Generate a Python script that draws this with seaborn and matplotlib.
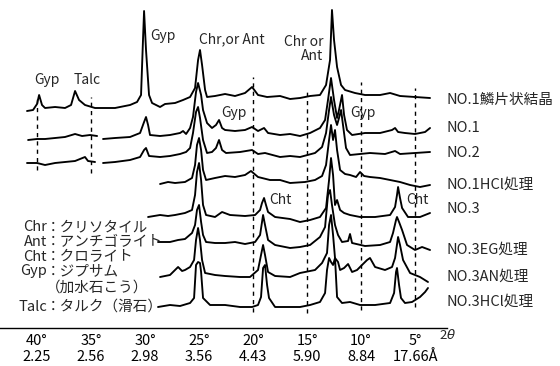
import numpy as np
import pandas as pd
import matplotlib
matplotlib.use("Agg")
import matplotlib.pyplot as plt
import seaborn as sns

# X-ray diffraction traces (2 theta in degrees, height above axis)
nan = np.nan

tt_flake = [40.93, 40.37, 40.0, 39.81, 39.54, 39.26, 38.33, 37.41, 36.85, 36.48, 36.11, 35.56, 34.63,
            32.78, 31.39, 30.74, 30.37, 30.19, 30.09, 29.91, 29.63, 29.35, 28.61, 28.15, 27.22, 26.48,
            25.83, 25.37, 25.09, 24.91, 24.72, 24.44, 24.26, 23.52, 22.59, 21.67, 20.74, 20.09, 19.54,
            18.70, 17.50, 16.57, 15.65, 14.72, 13.80, 13.24, 12.87, 12.69, 12.50, 12.22, 11.85, 11.48,
            10.56, 9.63, 8.24, 7.31, 6.39, 5.00, 3.61]
int_flake = [217, 218, 224, 233, 223, 220, 221, 220, 223, 237, 228, 223, 220,
             220, 223, 226, 233, 288, 317, 278, 233, 225, 221, 224, 225, 228,
             231, 240, 268, 278, 263, 238, 231, 232, 234, 232, 235, 241, 233,
             231, 232, 229, 230, 232, 233, 243, 268, 318, 288, 261, 243, 238,
             235, 233, 233, 235, 232, 231, 230]

tt_no1 = [40.83, 40.0, 39.26, 38.33, 37.41, 36.48, 35.83, 35.09, 34.44, nan, 33.89, 32.78, 31.39, 30.46,
          30.09, 29.91, 29.72, 29.54, 28.61, 27.69, 26.76, 26.48, 26.20, 25.83, 25.56, 25.28, 25.09,
          24.81, 24.63, 24.26, 23.80, 23.43, 23.15, 22.87, 22.59, 21.67, 20.74, 20.09, 19.54, 18.98,
          18.61, 17.50, 16.57, 15.65, 14.72, 13.80, 13.33, 13.06, 12.78, 12.50, 12.22, 12.04, 11.76,
          11.57, 11.30, 10.83, 9.63, 8.24, 7.13, 6.85, 6.57, 5.93, 5.00, 4.07, 3.61]
int_no1 = [188, 189, 189, 190, 191, 194, 192, 193, 192, nan, 189, 190, 191, 195,
           206, 211, 203, 193, 192, 193, 195, 197, 194, 200, 211, 236, 245,
           233, 218, 205, 200, 203, 208, 200, 198, 197, 198, 201, 197, 200,
           195, 193, 194, 192, 195, 200, 208, 228, 250, 228, 210, 218, 233,
           213, 198, 193, 195, 195, 198, 200, 196, 195, 194, 196, 200]

tt_no2 = [40.93, 40.0, 39.26, 38.33, 37.41, 36.48, 36.02, 35.56, 35.28, 34.63, nan, 33.89, 32.78, 31.39,
          30.46, 30.09, 29.91, 29.63, 28.61, 27.69, 26.76, 26.20, 25.83, 25.56, 25.28, 25.09, 24.91,
          24.63, 24.26, 23.80, 23.43, 23.15, 22.87, 22.50, 21.20, 20.09, 19.54, 18.89, 17.50, 16.57,
          15.65, 14.26, 13.61, 13.24, 12.96, 12.78, 12.50, 12.22, 12.04, 11.85, 11.67, 11.39, 11.02,
          9.17, 7.78, 6.85, 6.39, 5.00, 3.61]
int_no2 = [165, 165, 163, 165, 166, 167, 169, 171, 167, 166, nan, 165, 166, 168,
           171, 178, 180, 172, 171, 172, 174, 176, 180, 195, 216, 221, 210,
           188, 175, 176, 180, 188, 178, 175, 176, 178, 174, 175, 171, 172,
           171, 175, 181, 195, 218, 231, 213, 203, 210, 218, 203, 180, 173,
           175, 174, 177, 174, 175, 176]

tt_no1hcl = [28.61, 27.87, 27.22, 26.30, 25.65, 25.37, 25.19, 25.00, 24.81, 24.63, 24.35, 23.52, 22.59,
             21.67, 20.74, 20.19, 19.54, 18.43, 17.50, 16.57, 15.19, 14.26, 13.61, 13.24, 12.96, 12.78,
             12.59, 12.41, 12.22, 11.94, 11.48, 11.02, 10.46, 10.09, 9.72, 9.17, 8.24, 7.31, 6.39, 5.46,
             4.54, 3.61]
int_no1hcl = [144, 146, 145, 146, 150, 163, 183, 190, 178, 158, 148, 150, 152,
              151, 153, 157, 151, 148, 148, 145, 146, 148, 152, 163, 188, 203,
              188, 198, 178, 158, 154, 153, 151, 156, 152, 151, 150, 148, 146, 143,
              141, 143]

tt_no3 = [29.72, 28.61, 27.87, 27.22, 26.30, 25.65, 25.37, 25.19, 25.00, 24.81, 24.63, 24.35, 23.52,
          22.87, 22.13, 20.74, 19.81, 19.35, 19.17, 18.98, 18.80, 18.61, 17.96, 16.57, 15.65, 14.72,
          13.80, 13.24, 12.96, 12.78, 12.59, 12.41, 12.22, 11.94, 11.57, 11.02, 10.09, 8.70, 7.31,
          6.85, 6.67, 6.57, 6.39, 6.20, 5.65, 4.54, 3.61]
int_no3 = [111, 113, 112, 113, 115, 118, 133, 156, 165, 148, 123, 113, 111,
           116, 113, 112, 113, 118, 125, 130, 123, 116, 111, 109, 106, 108,
           111, 120, 148, 170, 153, 123, 128, 118, 115, 113, 111, 111, 113,
           121, 133, 141, 130, 120, 111, 111, 115]

tt_no3eg = [28.80, 27.69, 26.94, 26.30, 25.65, 25.37, 25.19, 25.00, 24.81, 24.63, 24.35, 23.52, 22.59,
            21.67, 20.74, 19.81, 19.35, 19.07, 18.89, 18.61, 17.96, 16.57, 15.65, 14.72, 13.80, 13.33,
            13.06, 12.87, 12.69, 12.41, 12.13, 11.76, 11.20, 11.02, 10.83, 9.63, 8.24, 7.31, 7.04,
            6.76, 6.67, 6.48, 6.20, 5.74, 5.00, 4.35, 3.61]
int_no3eg = [86, 86, 88, 89, 95, 103, 118, 123, 106, 93, 86, 85, 85,
             86, 84, 86, 93, 113, 103, 88, 83, 80, 81, 83, 91, 101,
             133, 138, 123, 103, 93, 86, 87, 94, 85, 82, 83, 86, 95,
             108, 111, 106, 98, 83, 78, 81, 78]

tt_no3an = [28.61, 27.69, 26.94, 26.57, 26.30, 25.83, 25.46, 25.28, 25.09, 24.91, 24.72, 24.44, 23.52,
            22.59, 21.20, 20.28, 19.54, 19.26, 19.07, 18.89, 18.61, 17.96, 16.57, 15.65, 14.26, 13.61,
            13.15, 12.96, 12.78, 12.59, 12.41, 12.13, 11.94, 11.57, 11.20, 10.83, 10.37, 9.91, 9.44,
            9.17, 8.70, 7.78, 7.13, 6.85, 6.57, 6.39, 6.11, 5.46, 4.54, 3.80]
int_no3an = [51, 53, 61, 57, 58, 61, 68, 88, 100, 88, 68, 55, 53,
             52, 51, 51, 58, 73, 83, 73, 56, 52, 51, 55, 58, 65,
             75, 103, 113, 93, 70, 66, 58, 60, 64, 56, 58, 63, 68,
             70, 61, 58, 61, 70, 91, 83, 68, 55, 51, 46]

tt_no3hcl = [28.80, 27.69, 26.76, 25.83, 25.46, 25.28, 25.09, 24.91, 24.81, 24.63, 23.98, 22.59, 21.20,
             20.09, 19.54, 19.26, 19.07, 18.89, 18.70, 18.52, 17.96, 16.57, 15.65, 14.72, 13.80, 13.33,
             13.15, 12.96, 12.78, 12.59, 12.41, 12.22, 11.76, 11.02, 10.09, 8.70, 7.31, 6.94, 6.76,
             6.67, 6.48, 6.30, 5.93, 5.28, 4.54, 4.07, 3.80]
int_no3hcl = [21, 23, 22, 25, 30, 63, 66, 65, 56, 30, 23, 23, 21,
              21, 23, 31, 60, 63, 43, 30, 21, 21, 21, 23, 26, 35,
              58, 70, 66, 63, 70, 31, 25, 26, 23, 23, 25, 35, 56,
              60, 43, 30, 25, 26, 31, 36, 40]

sample_names = ["NO.1鱗片状結晶", "NO.1", "NO.2", "NO.1HCl処理", "NO.3",
                "NO.3EG処理", "NO.3AN処理", "NO.3HCl処理"]
label_heights = [228, 200, 175, 143, 119, 78, 51, 26]
all_tt = [tt_flake, tt_no1, tt_no2, tt_no1hcl, tt_no3, tt_no3eg, tt_no3an, tt_no3hcl]
all_int = [int_flake, int_no1, int_no2, int_no1hcl, int_no3, int_no3eg, int_no3an, int_no3hcl]

tick_angles = [40, 35, 30, 25, 20, 15, 10, 5]
tick_d = ["2.25", "2.56", "2.98", "3.56", "4.43", "5.90", "8.84", "17.66Å"]

# dashed reference lines
ref_angles = [40, 35, 20, 15, 10, 5]
ref_top = [233, 231, 251, 240, 246, 240]
ref_bottom = [158, 155, 16, 15, 18, 21]

peak_labels = ["Gyp", "Talc", "Gyp", "Chr,or Ant", "Chr or\nAnt", "Gyp", "Gyp", "Cht", "Cht"]
peak_label_tt = [39.07, 35.37, 28.33, 21.94, 13.52, 21.76, 9.81, 17.5, 4.81]
peak_label_h = [248, 248, 292, 289, 279, 215, 215, 128, 128]

key_abbr = ["Chr", "Ant", "Cht", "Gyp", "", "Talc"]
key_text = ["：クリソタイル", "：アンチゴライト", "：クロライト", "：ジプサム", "（加水石こう）", "：タルク（滑石）"]
key_h = [101, 86, 71, 57, 40, 21]

# build long table, split traces at gaps
rows = []
for name, tt, iv in zip(sample_names, all_tt, all_int):
    seg = 0
    for a, b in zip(tt, iv):
        if np.isnan(a):
            seg += 1
            continue
        rows.append((name, f"{name}_{seg}", a, b))
df = pd.DataFrame(rows, columns=["sample", "seg", "two_theta", "intensity"])

sns.set_style("white")
plt.rcParams['font.family'] = ['Noto Sans CJK JP', 'DejaVu Sans']

fig = plt.figure(figsize=(5.6, 3.66), dpi=100)
ax = fig.add_axes([0, 38 / 366, 447 / 560, 328 / 366])

ax.vlines(ref_angles, ref_bottom, ref_top, colors="black", linestyles=(0, (3, 3)), linewidth=1.0)

sns.lineplot(data=df, x="two_theta", y="intensity", units="seg", estimator=None,
             sort=False, color="black", linewidth=1.35, ax=ax, legend=False)

ax.set_xlim(43.43, 2.04)
ax.set_ylim(0, 328)
ax.set_xlabel("")
ax.set_ylabel("")
ax.set_yticks([])
ax.set_xticks(tick_angles)
ax.set_xticklabels([f"{a}°\n{d}" for a, d in zip(tick_angles, tick_d)], fontsize=10.5, linespacing=1.25)
ax.tick_params(axis="x", direction="in", length=5, width=1, pad=4, colors="black")
for s in ["left", "right", "top"]:
    ax.spines[s].set_visible(False)
ax.spines["bottom"].set_color("black")
ax.spines["bottom"].set_linewidth(1.0)

for txt, x, y in zip(peak_labels, peak_label_tt, peak_label_h):
    ha = "right" if "\n" in txt else "center"
    ax.text(x, y, txt, fontsize=10, ha=ha, va="center", multialignment="right", linespacing=1.0)

for name, y in zip(sample_names, label_heights):
    ax.text(2.04, y, name, fontsize=10.5, ha="left", va="center", clip_on=False)

for ab, jp, y in zip(key_abbr, key_text, key_h):
    if ab:
        ax.text(39.07, y, ab, fontsize=10.5, ha="right", va="center")
    ax.text(39.17, y, jp, fontsize=10.5, ha="left", va="center")

ax.text(2.0, -7, r"2$\theta$", fontsize=9.5, ha="center", va="center", clip_on=False)

fig.savefig("out.png", dpi=100)
